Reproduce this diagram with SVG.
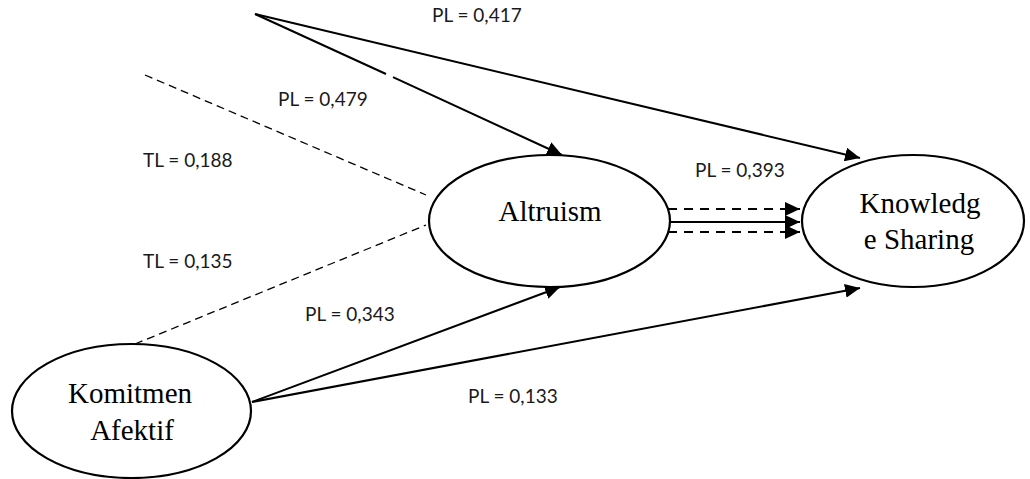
<svg xmlns="http://www.w3.org/2000/svg" width="1030" height="479" viewBox="0 0 1030 479">
<style>
.node ellipse{fill:#fff;stroke:#000;stroke-width:2.2}
.nt{font-family:"Liberation Serif",serif;font-size:29px;fill:#000;text-anchor:middle}
.lbl{font-family:Lato,"Liberation Sans",sans-serif;font-size:19px;fill:#1a1a1a}
.solid{stroke:#000;stroke-width:2;fill:none}
.dash{stroke:#000;stroke-width:1.3;fill:none;stroke-dasharray:8 5}
.dash2{stroke:#000;stroke-width:2;fill:none;stroke-dasharray:9 7}
</style>
<defs>
<marker id="ah" markerUnits="userSpaceOnUse" markerWidth="16" markerHeight="14" refX="15" refY="7" orient="auto">
<path d="M0,0 L15,7 L0,14 z" fill="#000"/>
</marker>
</defs>
<rect width="1030" height="479" fill="#fff"/>
<g id="connectors">
<line class="solid" x1="255" y1="14" x2="860" y2="158" marker-end="url(#ah)"/>
<path class="solid" d="M255,14 L386,74 M393,77.2 L562,155" marker-end="url(#ah)"/>
<line class="dash" x1="145" y1="75" x2="426" y2="195"/>
<line class="dash" x1="135" y1="344" x2="426" y2="225"/>
<line class="solid" x1="252" y1="402" x2="560" y2="287" marker-end="url(#ah)"/>
<line class="solid" x1="252" y1="402" x2="860" y2="288" marker-end="url(#ah)"/>
<line class="dash2" x1="668" y1="209" x2="800" y2="209" marker-end="url(#ah)"/>
<line class="solid" x1="668" y1="222" x2="800" y2="222" marker-end="url(#ah)"/>
<line class="dash2" x1="668" y1="232" x2="800" y2="232" marker-end="url(#ah)"/>
</g>
<g id="altruism" class="node">
<ellipse cx="549.5" cy="221" rx="120.5" ry="66"/>
<text class="nt" x="550" y="221">Altruism</text>
</g>
<g id="knowledge-sharing" class="node">
<ellipse cx="913" cy="221" rx="111" ry="66"/>
<text class="nt" x="920" y="213">Knowledg</text>
<text class="nt" x="919" y="249">e Sharing</text>
</g>
<g id="komitmen-afektif" class="node">
<ellipse cx="131.5" cy="411" rx="119.5" ry="67"/>
<text class="nt" x="130" y="403">Komitmen</text>
<text class="nt" x="132" y="440">Afektif</text>
</g>
<g id="labels">
<text class="lbl" x="432" y="22">PL = 0,417</text>
<text class="lbl" x="278" y="106">PL = 0,479</text>
<text class="lbl" x="143" y="167">TL = 0,188</text>
<text class="lbl" x="143" y="268">TL = 0,135</text>
<text class="lbl" x="695" y="177">PL = 0,393</text>
<text class="lbl" x="305" y="321">PL = 0,343</text>
<text class="lbl" x="468" y="403">PL = 0,133</text>
</g>
</svg>
